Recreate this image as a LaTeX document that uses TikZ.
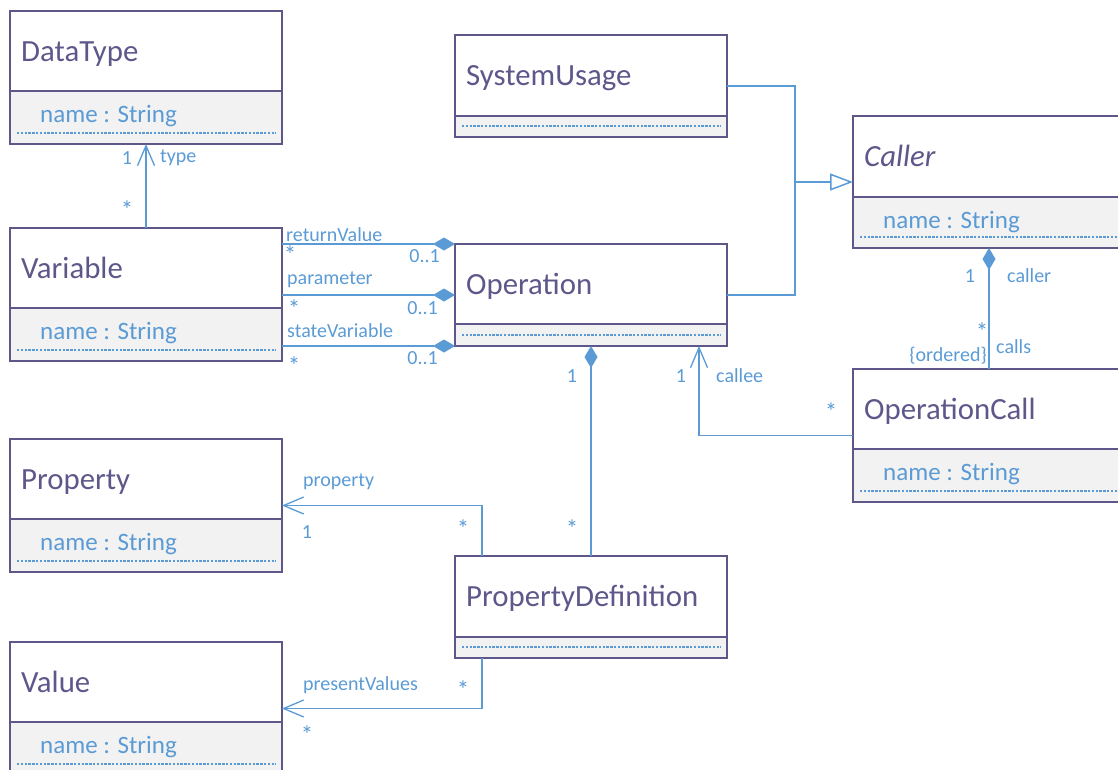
\documentclass[tikz,border=0pt]{standalone}
\usepackage{fontspec}
\setmainfont{Carlito}
\usetikzlibrary{arrows.meta}

\definecolor{umlink}{RGB}{94,88,138}
\definecolor{umlblue}{RGB}{91,155,213}
\definecolor{umlgray}{RGB}{242,242,242}

\tikzset{
  classframe/.style={draw=umlink, line width=1.3pt, fill=white, minimum width=272pt,
    inner sep=0pt, outer sep=0pt, anchor=north west},
  classcomp/.style={draw=umlink, line width=1.3pt, fill=umlgray, minimum width=272pt,
    inner sep=0pt, outer sep=0pt, anchor=south west},
  classname/.style={text=umlink, font=\fontsize{30.8}{36}\selectfont, inner sep=0pt, anchor=base west},
  attrtext/.style={text=umlblue, font=\fontsize{25}{30}\selectfont, inner sep=0pt, anchor=base west},
  dotline/.style={draw=umlblue, line width=1.1pt, dash pattern=on 2.4pt off 1.4pt},
  assoc/.style={draw=umlblue, line width=1.5pt},
  navtip/.style={-{Straight Barb[length=20pt,width=17pt,line width=1.3pt]}},
  comptip/.style={-{Diamond[length=22pt,width=13pt,fill=umlblue]}},
  compstart/.style={{Diamond[length=22pt,width=13pt,fill=umlblue]}-},
  gentip/.style={-{Triangle[open,length=23pt,width=17pt,line width=1.5pt,fill=white]}},
  lbl/.style={text=umlblue, font=\fontsize{20}{23}\selectfont, inner sep=0pt},
  star/.style={lbl, font=\fontsize{25}{28}\selectfont},
}

% #1 id, #2 left x, #3 top y, #4 header height, #5 attribute compartment height,
% #6 class name, #7 attribute (may be empty)
\newcommand\umlclass[7]{%
  \node[classframe, minimum height={#4+#5}] (#1) at (#2,#3) {};
  \node[classcomp, minimum height=#5] (#1-c) at (#1.south west) {};
  \node[classname] (#1-n) at ([xshift=11pt, yshift=-50pt]#1.north west) {#6};
  \if\relax\detokenize{#7}\relax\else
    \node[attrtext] (#1-a) at ([xshift=30pt, yshift=-31pt]#1-c.north west) {#7};
  \fi
  \draw[dotline] ([xshift=7pt,yshift=11pt]#1-c.south west) -- ([xshift=-6pt,yshift=11pt]#1-c.south east);
}

\begin{document}
\begin{tikzpicture}[x=1pt, y=-1pt]
\useasboundingbox (0,0) rectangle (1118,769);
\clip (0,0) rectangle (1118,769);

% classes
\umlclass{dt}{10}{11}{80}{53}{DataType}{name : String}
\umlclass{var}{10}{228}{80}{53}{Variable}{name : String}
\umlclass{prop}{10}{439}{80}{53}{Property}{name : String}
\umlclass{val}{10}{642}{80}{53}{Value}{name : String}
\umlclass{su}{455}{35}{81}{21}{SystemUsage}{}
\umlclass{op}{455}{244}{80}{22}{Operation}{}
\umlclass{pd}{455}{556}{81}{21}{PropertyDefinition}{}
\umlclass{caller}{853}{116}{81}{51}{\itshape Caller}{name : String}
\umlclass{oc}{853}{369}{80}{53}{OperationCall}{name : String}

% Variable -> DataType
\draw[assoc, navtip] (var.north) -- (dt.south);
\node[lbl] (dt-m1) at (127,158) {1};
\node[lbl, anchor=west] (dt-r) at (160,158) {type};
\node[star] (dt-m2) at (127,210) {*};

% Operation owns variables
\draw[assoc, comptip] (op.north west -| var.east) -- (op.north west);
\draw[assoc, comptip] (op.west -| var.east) -- (op.west);
\draw[assoc, comptip] (op.south west -| var.east) -- (op.south west);
\node[lbl, anchor=west] (rv-r) at (286,235) {returnValue};
\node[star] (rv-m1) at (290,255) {*};
\node[lbl, anchor=east] (rv-m2) at (440,256) {0..1};
\node[lbl, anchor=west] (pa-r) at (287,280) {parameter};
\node[star] (pa-m1) at (294,309) {*};
\node[lbl, anchor=east] (pa-m2) at (438,308) {0..1};
\node[lbl, anchor=west] (sv-r) at (287,331) {stateVariable};
\node[star] (sv-m1) at (294,366) {*};
\node[lbl, anchor=east] (sv-m2) at (438,358) {0..1};

% generalization to Caller
\coordinate (gj) at (795,182);
\draw[assoc] (su.east) -| (gj);
\draw[assoc] (op.east) -| (gj);
\draw[assoc, gentip] (gj) -- (gj -| caller.west);

% Operation owns property definitions
\draw[assoc, compstart] (op.south) -- (pd.north);
\node[lbl] (pd-m1) at (572,376) {1};
\node[star] (pd-m2) at (572,529) {*};

% callee
\draw[assoc, navtip] (oc.west) -| ([xshift=-28pt]op.south east);
\node[lbl] (ce-m1) at (681,376) {1};
\node[lbl, anchor=west] (ce-r) at (716,376) {callee};
\node[star] (ce-m2) at (831,412) {*};

% Caller owns calls
\draw[assoc, compstart] (caller.south) -- (oc.north);
\node[lbl] (ca-m1) at (970,276) {1};
\node[lbl, anchor=west] (ca-r) at (1007,276) {caller};
\node[star] (ca-m2) at (982,332) {*};
\node[lbl, anchor=east] (ca-o) at (987,356) {\{ordered\}};
\node[lbl, anchor=west] (ca-c) at (996,347) {calls};

% PropertyDefinition -> Property
\draw[assoc, navtip] ([xshift=27pt]pd.north west) |- (prop.east);
\node[lbl, anchor=west] (pr-r) at (303,482) {property};
\node[lbl] (pr-m1) at (307,532) {1};
\node[star] (pr-m2) at (463,529) {*};

% PropertyDefinition -> Value
\draw[assoc, navtip] ([xshift=27pt]pd.south west) |- (val.east);
\node[lbl, anchor=west] (pv-r) at (303,685) {presentValues};
\node[star] (pv-m1) at (463,690) {*};
\node[star] (pv-m2) at (307,735) {*};
\end{tikzpicture}
\end{document}
